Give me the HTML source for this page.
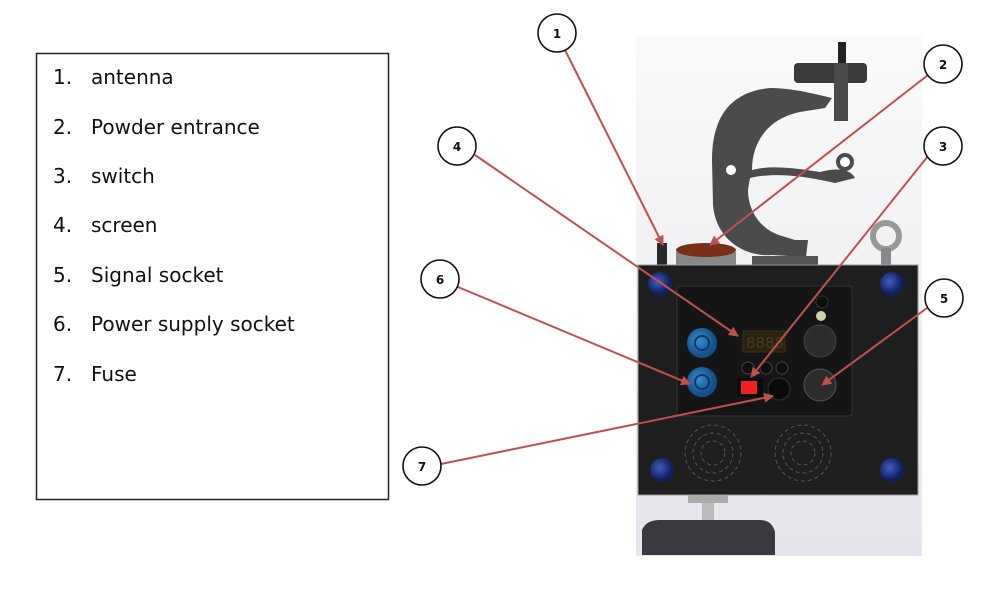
<!DOCTYPE html>
<html><head><meta charset="utf-8"><style>
html,body{margin:0;padding:0;background:#fff;}
svg{display:block;}
text{font-family:"DejaVu Sans","Liberation Sans",sans-serif;}
</style></head><body>
<svg width="1000" height="595" viewBox="0 0 1000 595" xmlns="http://www.w3.org/2000/svg">
<defs>
<linearGradient id="bg" x1="0" y1="0" x2="0" y2="1">
<stop offset="0" stop-color="#fafafa"/><stop offset="1" stop-color="#e4e6ec"/></linearGradient>
<marker id="ah" markerWidth="10" markerHeight="10" refX="9" refY="5" orient="auto" markerUnits="userSpaceOnUse">
<path d="M0,0 L10,5 L0,10 z" fill="#c0504d"/></marker>
<radialGradient id="blue" cx="0.4" cy="0.4"><stop offset="0" stop-color="#3a8fd0"/><stop offset="1" stop-color="#14508a"/></radialGradient>
<radialGradient id="foot" cx="0.4" cy="0.4"><stop offset="0" stop-color="#3f5fc0"/><stop offset="1" stop-color="#101f60"/></radialGradient>
</defs>
<rect x="36.5" y="53.5" width="352" height="446" fill="#fff" stroke="#222" stroke-width="1.5"/>
<g font-size="20" fill="#111">
<text x="53" y="84">1.</text><text x="91" y="84">antenna</text>
<text x="53" y="134">2.</text><text x="91" y="134">Powder entrance</text>
<text x="53" y="183">3.</text><text x="91" y="183">switch</text>
<text x="53" y="232">4.</text><text x="91" y="232">screen</text>
<text x="53" y="282">5.</text><text x="91" y="282">Signal socket</text>
<text x="53" y="331">6.</text><text x="91" y="331">Power supply socket</text>
<text x="53" y="381">7.</text><text x="91" y="381">Fuse</text>
</g>
<rect x="636" y="36" width="286" height="520" fill="url(#bg)"/>
<rect x="794" y="63" width="73" height="20" rx="4" fill="#3a3a3c"/>
<rect x="838" y="42" width="8" height="70" fill="#222"/>
<rect x="834" y="63" width="14" height="58" fill="#4a4a4c"/>
<path d="M770,88 C728,92 712,120 712,160 L713,205 C716,240 745,257 772,255 L806,257 L808,240 L795,240 L782,236 C760,230 748,210 748,190 L750,178 C775,172 805,176 835,183 L855,178 C850,168 835,168 820,172 C795,168 770,165 752,170 C752,140 770,118 800,112 L825,108 L832,98 C815,94 792,88 770,88 Z" fill="#4b4b4d"/>
<circle cx="731" cy="170" r="5" fill="#fff"/>
<circle cx="845" cy="162" r="9" fill="#4b4b4d"/><circle cx="845" cy="162" r="5" fill="#fff"/>
<rect x="752" y="256" width="66" height="10" fill="#555"/>
<rect x="676" y="252" width="60" height="14" fill="#888"/>
<ellipse cx="706" cy="250" rx="30" ry="7" fill="#7a3018"/>
<rect x="657" y="243" width="10" height="22" fill="#2a2a2a"/>
<circle cx="886" cy="236" r="13" fill="none" stroke="#999" stroke-width="6"/>
<rect x="881" y="248" width="10" height="17" fill="#888"/>
<rect x="638" y="265" width="280" height="230" fill="#1e1e1f" stroke="#999" stroke-width="1"/>
<circle cx="660" cy="284" r="12" fill="url(#foot)"/><circle cx="892" cy="284" r="12" fill="url(#foot)"/>
<circle cx="662" cy="470" r="12" fill="url(#foot)"/><circle cx="892" cy="470" r="12" fill="url(#foot)"/>
<rect x="677" y="286" width="175" height="130" rx="3" fill="#151515" stroke="#333"/>
<circle cx="702" cy="343" r="15" fill="url(#blue)"/><circle cx="702" cy="343" r="7" fill="none" stroke="#0c3a66" stroke-width="2"/>
<circle cx="702" cy="382" r="15" fill="url(#blue)"/><circle cx="702" cy="382" r="7" fill="none" stroke="#0c3a66" stroke-width="2"/>
<rect x="743" y="331" width="42" height="21" fill="#2a2110" stroke="#3a3020"/>
<text x="746" y="348" font-size="15" fill="#4a3a1a" font-family="Liberation Mono,monospace">8888</text>
<circle cx="748" cy="368" r="6" fill="#0e0e0e" stroke="#444"/><circle cx="766" cy="368" r="6" fill="#0e0e0e" stroke="#444"/><circle cx="782" cy="368" r="6" fill="#0e0e0e" stroke="#444"/>
<rect x="737" y="378" width="26" height="19" fill="#0a0a0a"/><rect x="741" y="381" width="16" height="13" fill="#f02020"/>
<circle cx="779" cy="389" r="11" fill="#0a0a0a" stroke="#333"/>
<circle cx="822" cy="302" r="6" fill="#0e0e0e" stroke="#333"/><circle cx="821" cy="316" r="5" fill="#cfcfa8"/>
<circle cx="820" cy="341" r="16" fill="#2c2c2c" stroke="#444"/>
<circle cx="820" cy="385" r="16" fill="#2c2c2c" stroke="#555"/>
<g fill="none" stroke="#555" stroke-dasharray="4 3">
<circle cx="713" cy="453" r="28"/><circle cx="713" cy="453" r="20"/><circle cx="713" cy="453" r="12"/>
<circle cx="803" cy="453" r="28"/><circle cx="803" cy="453" r="20"/><circle cx="803" cy="453" r="12"/>
</g>
<rect x="688" y="495" width="40" height="8" fill="#aaa"/>
<rect x="702" y="503" width="12" height="22" fill="#bbb"/>
<path d="M642,555 L642,530 Q646,520 660,520 L760,520 Q772,520 775,532 L775,555 Z" fill="#3c3840"/>
<g stroke="#c0504d" stroke-width="2" fill="none" marker-end="url(#ah)">
<line x1="565" y1="50" x2="663" y2="245"/>
<line x1="928" y1="75" x2="710" y2="245"/>
<line x1="928" y1="156" x2="751" y2="377"/>
<line x1="475" y1="155" x2="738" y2="336"/>
<line x1="927" y1="308" x2="822" y2="385"/>
<line x1="458" y1="287" x2="690" y2="384"/>
<line x1="441" y1="464" x2="773" y2="396"/>
</g>
<g fill="#fff" stroke="#111" stroke-width="1.6">
<circle cx="557" cy="33" r="19"/><circle cx="943" cy="64" r="19"/><circle cx="943" cy="146" r="19"/>
<circle cx="457" cy="146" r="19"/><circle cx="944" cy="298" r="19"/><circle cx="440" cy="279" r="19"/><circle cx="422" cy="466" r="19"/>
</g>
<g font-size="12" font-weight="bold" fill="#111" text-anchor="middle">
<text x="557" y="38">1</text><text x="943" y="69">2</text><text x="943" y="151">3</text>
<text x="457" y="151">4</text><text x="944" y="303">5</text><text x="440" y="284">6</text><text x="422" y="471">7</text>
</g>
</svg>
</body></html>
